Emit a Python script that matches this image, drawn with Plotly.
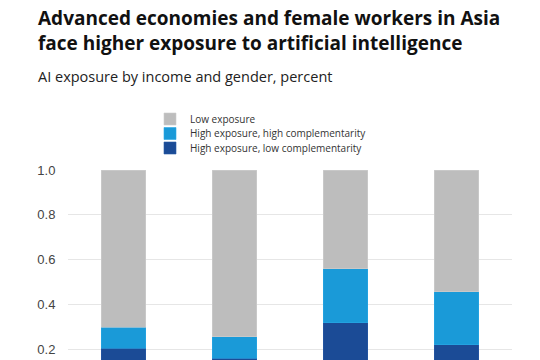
import plotly.graph_objects as go

categories = ["Emerging markets, male", "Emerging markets, female", "Advanced economies, female", "Advanced economies, male"]
high_low = [0.205, 0.159, 0.317, 0.221]
high_high = [0.094, 0.096, 0.243, 0.236]
low_exp = [0.701, 0.745, 0.440, 0.543]
series_names = ["High exposure, low complementarity", "High exposure, high complementarity", "Low exposure"]
colors = ["#1b4b96", "#1a9ad8", "#bdbdbd"]
edge_colors = ["#2a5aa6", "#2aa8e6", "#cfcfcf"]

W, H = 540, 360
L, R, T, B = 68, 28, 170, 0
pw, ph = W - L - R, H - T - B
PX_PER_UNIT = 224.0

def px_(p):
    return (p - L) / pw

def py(p):
    return (H - B - p) / ph

legend_ids = ["legend3", "legend2", "legend"]
legend_tops = [133.5, 119.0, 104.5]

fig = go.Figure()
for name, vals, c, ec, lid in zip(series_names, [high_low, high_high, low_exp], colors, edge_colors, legend_ids):
    fig.add_trace(go.Bar(x=categories, y=vals, name=name, legend=lid, showlegend=True,
                         marker=dict(color=c, line=dict(color=ec, width=0.6))))

legend_x = px_(150)
leg_font = dict(family="Open Sans, sans-serif", size=10, color="#333")
legends = {}
for lid, top in zip(legend_ids, legend_tops):
    legends[lid] = dict(x=legend_x, y=py(top), xanchor="left", yanchor="top", visible=True,
                        font=leg_font, bgcolor="rgba(0,0,0,0)", borderwidth=0)

title_font = dict(family="Open Sans, sans-serif", size=19, color="#111")
annotations = [
    dict(text="<b>Advanced economies and female workers in Asia<br>face higher exposure to artificial intelligence</b>",
         xref="paper", yref="paper", align="left",
         x=px_(36), y=py(3), xanchor="left", yanchor="top", showarrow=False, font=title_font),
    dict(text="AI exposure by income and gender, percent", xref="paper", yref="paper",
         x=px_(36), y=py(88), xanchor="left", yanchor="bottom", showarrow=False,
         font=dict(family="Open Sans, sans-serif", size=14.5, color="#222")),
]

fig.update_layout(
    width=W, height=H,
    margin=dict(l=L, r=R, t=T, b=B, autoexpand=False),
    barmode="stack", bargap=0.6, showlegend=True,
    plot_bgcolor="white", paper_bgcolor="white",
    font=dict(family="Open Sans, sans-serif", color="#222"),
    annotations=annotations,
    xaxis=dict(showticklabels=False, showline=False, showgrid=False, ticks="", automargin=False),
    yaxis=dict(range=[1 - ph / PX_PER_UNIT, 1.0], tickvals=[0.2, 0.4, 0.6, 0.8, 1.0],
               ticktext=["0.2", "0.4", "0.6", "0.8", "1.0"],
               showgrid=True, gridcolor="#e6e6e6", gridwidth=1, zeroline=False, showline=False,
               ticks="outside", ticklen=9, tickcolor="rgba(0,0,0,0)", automargin=False,
               tickfont=dict(family="Liberation Sans, Arial, sans-serif", size=13, color="#444")),
    **legends,
)
fig.write_html("out.html")
